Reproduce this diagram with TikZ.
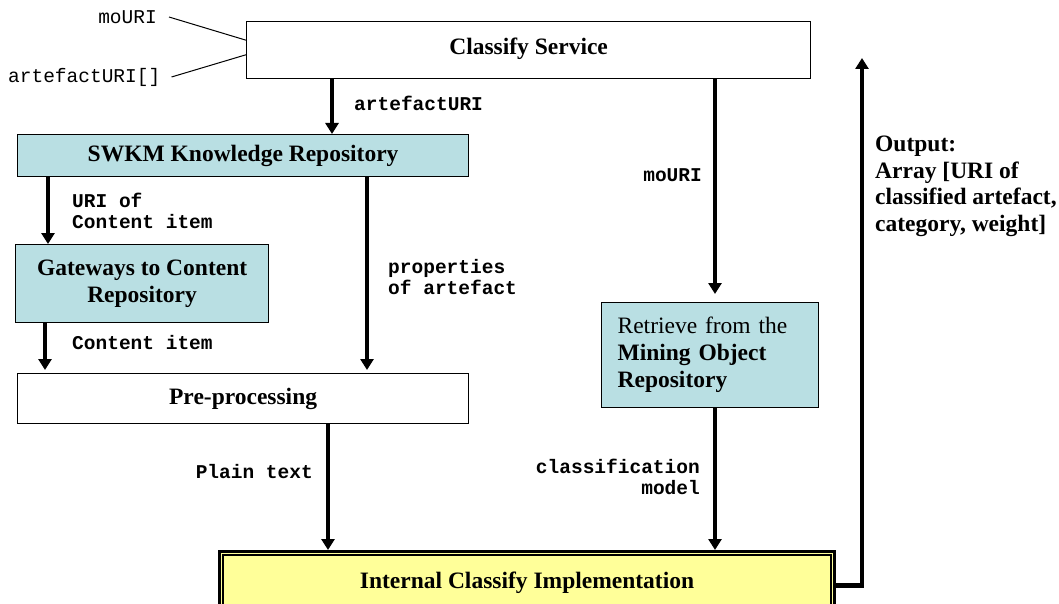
\documentclass[tikz,border=0pt]{standalone}
\usepackage{fontspec}
\setmainfont{Liberation Serif}
\newfontfamily\cour{Liberation Mono}
\usetikzlibrary{arrows.meta,calc}
\definecolor{boxblue}{RGB}{185,223,227}
\definecolor{boxyellow}{RGB}{255,255,153}
\begin{document}
\begin{tikzpicture}[x=1pt,y=-1pt,
  box/.style={draw=black,line width=1.2pt,rectangle,anchor=north west,inner sep=0pt,
    font=\fontsize{23.5}{27}\selectfont\bfseries,align=center},
  bluebox/.style={box,fill=boxblue},
  arr/.style={line width=4.5pt,-{Triangle[width=13pt,length=11pt]}},
  lab/.style={font=\cour\fontsize{19.5}{21.5}\selectfont\bfseries,inner sep=0pt},
  inlab/.style={font=\cour\fontsize{19.5}{21.5}\selectfont,inner sep=0pt},
  thinline/.style={line width=1pt}]
\useasboundingbox (0,0) rectangle (1059,604);
\clip (0,0) rectangle (1059,604);

% boxes
\node[box,minimum width=564pt,minimum height=57pt] (cs) at (246,21) {\raisebox{7pt}{Classify Service}};
\node[bluebox,minimum width=451pt,minimum height=42pt] (swkm) at (17,134) {SWKM Knowledge Repository};
\node[bluebox,minimum width=253pt,minimum height=78pt] (gw) at (15,244) {Gateways to Content\\Repository};
\node[box,minimum width=451pt,minimum height=50pt] (pre) at (17,373) {Pre-processing};
\node[bluebox,minimum width=217pt,minimum height=105pt,text width=185pt,align=left,
  font=\fontsize{23.5}{27}\selectfont] (mor) at (601,302)
  {Retrieve from the\\\textbf{Mining Object}\\\textbf{Repository}};
\node[box,fill=boxyellow,line width=3pt,minimum width=615pt,minimum height=62pt] (ici) at (218,550)
  {\raisebox{3pt}{Internal Classify Implementation}};
\draw[line width=1.3pt] ([shift={(5pt,-5pt)}]ici.north west) -- ([shift={(-5pt,-5pt)}]ici.north east)
  -- ([shift={(-5pt,5pt)}]ici.south east) -- ([shift={(5pt,5pt)}]ici.south west) -- cycle;

% input labels
\node[inlab,anchor=east] (lmo) at (157,17) {moURI};
\node[inlab,anchor=west] (lart) at (8,77) {artefactURI[]};
\draw[thinline] ([xshift=12pt]lmo.east) -- ($(cs.north west)!0.33!(cs.south west)$);
\draw[thinline] ([xshift=11pt]lart.east) -- ($(cs.north west)!0.58!(cs.south west)$);

% x positions of vertical connectors
\coordinate (xa) at (332,0);
\coordinate (xb) at (48,0);
\coordinate (xc) at (45,0);
\coordinate (xd) at (367,0);
\coordinate (xe) at (715,0);
\coordinate (xf) at (328,0);
\coordinate (outtip) at (862,58);

\draw[arr] (cs.south -| xa) -- (swkm.north -| xa);
\node[lab,anchor=west] (l1) at (354,103) {artefactURI};

\draw[arr] (swkm.south -| xb) -- (gw.north -| xb);
\node[lab,anchor=west,align=left] (l2) at (72,211) {URI of\\Content item};

\draw[arr,shorten >=3pt] (gw.south -| xc) -- (pre.north -| xc);
\node[lab,anchor=west] (l3) at (72,343) {Content item};

\draw[arr,shorten >=3pt] (swkm.south -| xd) -- (pre.north -| xd);
\node[lab,anchor=west,align=left] (l4) at (388,277) {properties\\of artefact};

\draw[arr,shorten >=8pt] (cs.south -| xe) -- (mor.north -| xe);
\node[lab,anchor=east] (l5) at (702,175) {moURI};

\draw[arr] (pre.south -| xf) -- (ici.north -| xf);
\node[lab,anchor=east] (l6) at (313,472) {Plain text};

\draw[arr] (mor.south -| xe) -- (ici.north -| xe);
\node[lab,anchor=east,align=right] (l7) at (700,477) {classification\\model};

\draw[arr] ([yshift=-3pt]ici.east) -| (outtip);
\node[anchor=north west,inner sep=0pt,align=left,font=\fontsize{23.5}{26.5}\selectfont\bfseries] (out) at (875,136)
  {Output:\\Array [URI of\\classified artefact,\\category, weight]};
\end{tikzpicture}
\end{document}
